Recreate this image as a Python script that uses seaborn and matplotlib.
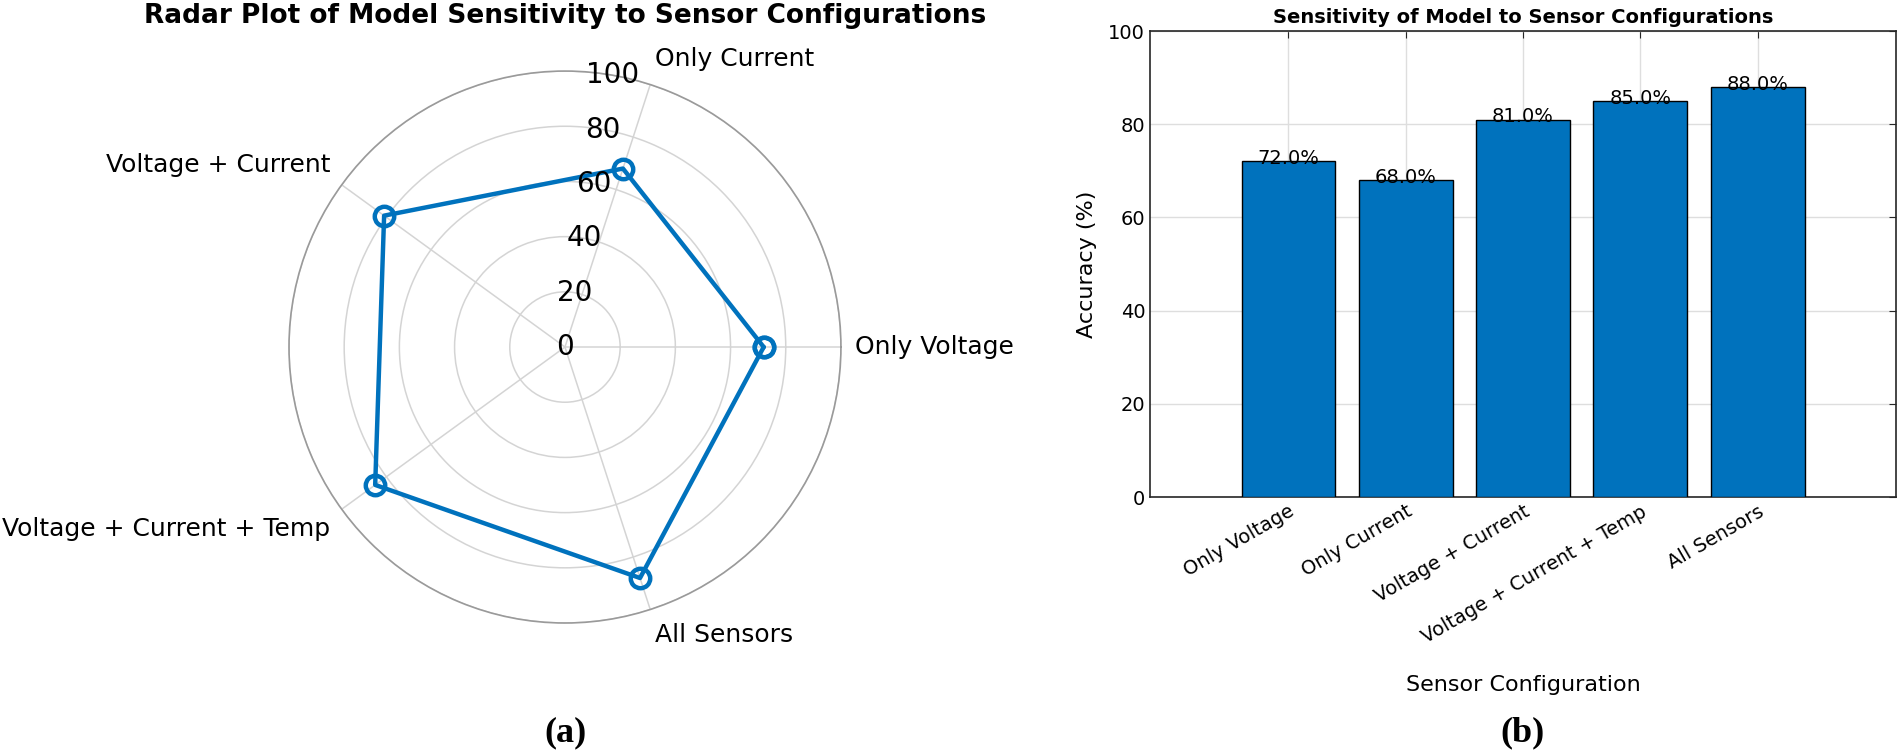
import numpy as np
import pandas as pd
import seaborn as sns
from matplotlib import pyplot as plt

CONFIGS = ['Only Voltage', 'Only Current', 'Voltage + Current',
           'Voltage + Current + Temp', 'All Sensors']
ACCURACY = [72, 68, 81, 85, 88]
R_TICKS = [0, 20, 40, 60, 80, 100]
Y_TICKS = [0, 20, 40, 60, 80, 100]

BLUE = '#0072BD'


def radar(fig):
    ax = fig.add_axes([0.1521, 0.1704, 0.2905, 0.735], projection='polar')
    angles = np.linspace(0, 2 * np.pi, len(CONFIGS), endpoint=False)
    theta = np.append(angles, angles[0])
    vals = ACCURACY + ACCURACY[:1]
    ax.plot(theta, vals, color=BLUE, lw=3.2, marker='o', ms=14,
            mfc='none', mec=BLUE, mew=3.2, zorder=5, clip_on=False)
    ax.set_ylim(0, 100)
    ax.set_yticks(R_TICKS[1:])
    ax.set_yticklabels([])
    ax.set_xticks(angles)
    ax.set_xticklabels([])
    ax.tick_params(length=0)
    ax.grid(True, color='#d4d4d4', lw=1.1)
    ax.spines['polar'].set_color('#9a9a9a')
    ax.spines['polar'].set_linewidth(1.2)
    ax.set_facecolor('white')

    # radial tick labels along 80 degrees, MATLAB style
    for r in R_TICKS:
        ax.text(np.deg2rad(80), r, str(r), ha='center', va='center',
                fontsize=20, zorder=6)

    aligns = [('left', 'center'), ('left', 'bottom'), ('right', 'bottom'),
              ('right', 'top'), ('left', 'top')]
    for a, lab, (ha, va) in zip(angles, CONFIGS, aligns):
        ax.text(a, 105, lab, ha=ha, va=va, fontsize=18)

    fig.text(565 / 1900, 1 - 16 / 751, 'Radar Plot of Model Sensitivity to Sensor Configurations',
             ha='center', va='center', fontsize=19, fontweight='bold')


def bars(fig):
    ax = fig.add_axes([0.6053, 0.3382, 0.3926, 0.6205])
    df = pd.DataFrame({'config': CONFIGS, 'acc': ACCURACY})
    sns.barplot(data=df, x='config', y='acc', color=BLUE, saturation=1,
                edgecolor='black', linewidth=1.0, width=0.8, ax=ax, zorder=3)
    for i, v in enumerate(ACCURACY):
        ax.text(i, v + 0.6, f'{v:.1f}%', ha='center', va='center',
                fontsize=14, zorder=5)
    ax.set_xlim(-1.18, 5.18)
    ax.set_ylim(0, 100)
    ax.set_yticks(Y_TICKS)
    ax.set_axisbelow(True)
    ax.grid(True, color='#dedede', lw=1.0)
    ax.tick_params(direction='in', length=5, top=True, right=True,
                   labelsize=14, color='#262626')
    plt.setp(ax.get_xticklabels(), rotation=30, ha='right',
             rotation_mode='anchor', fontsize=14)
    for s in ax.spines.values():
        s.set_color('#262626')
        s.set_linewidth(1.2)
    ax.set_xlabel('')
    ax.set_ylabel('Accuracy (%)', fontsize=16, labelpad=8)
    ax.set_title('Sensitivity of Model to Sensor Configurations',
                 fontsize=14, fontweight='bold', pad=6)
    fig.text(1523 / 1900, 1 - 685 / 751, 'Sensor Configuration',
             ha='center', va='center', fontsize=16)


def main():
    sns.set_style('white')
    plt.rcParams['font.family'] = ['DejaVu Sans']
    for k in ['text.color', 'axes.labelcolor', 'xtick.labelcolor', 'ytick.labelcolor']:
        plt.rcParams[k] = 'black'
    fig = plt.figure(figsize=(19, 7.51), dpi=100)
    radar(fig)
    bars(fig)
    for x, lab in [(566, '(a)'), (1523, '(b)')]:
        fig.text(x / 1900, 1 - 733 / 751, lab, ha='center', va='center',
                 fontsize=26, fontweight='bold', family='Liberation Serif')
    fig.savefig('out.png', dpi=100, facecolor='white')


if __name__ == '__main__':
    main()
